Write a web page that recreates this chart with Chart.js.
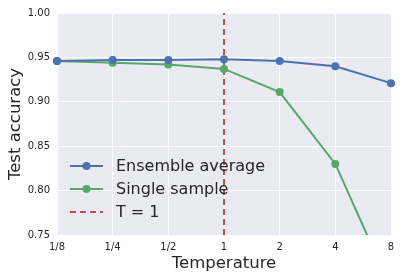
<!DOCTYPE html>
<html>
<head>
<meta charset="UTF-8">
<title>Test accuracy vs temperature</title>
<script src="https://cdn.jsdelivr.net/npm/chart.js"></script>
<style>
  html, body { margin: 0; padding: 0; background: #fff; }
  #wrap { width: 401px; height: 279px; }
</style>
</head>
<body>
<div id="wrap"><canvas id="chart" width="401" height="279"></canvas></div>
<script>
// data
const temperatures = ['1/8', '1/4', '1/2', '1', '2', '4', '8'];
const ensembleAvg = [0.946, 0.947, 0.947, 0.948, 0.946, 0.940, 0.921];
const singleSample = [0.946, 0.944, 0.942, 0.937, 0.911, 0.830, 0.690];
const yTicks = [0.75, 0.80, 0.85, 0.90, 0.95, 1.00];
const markerT = '1';

const FONT = 'DejaVu Sans';
const TEXT = '#262626';

// grey plot background
const bgPlugin = {
  id: 'bg',
  beforeDraw(chart) {
    const a = chart.chartArea, c = chart.ctx;
    c.save();
    c.fillStyle = '#EAEAF2';
    c.fillRect(a.left, a.top, a.right - a.left, a.bottom - a.top);
    c.restore();
  }
};

// legend drawn inside the plot, lower left
const legendPlugin = {
  id: 'innerLegend',
  afterDraw(chart) {
    const c = chart.ctx;
    const x0 = 70, x1 = 103, tx = 116;
    const rows = [166, 189, 212];
    c.save();
    c.font = '16px ' + FONT;
    c.textBaseline = 'middle';
    chart.data.datasets.forEach((ds, i) => {
      const y = rows[i];
      c.strokeStyle = ds.borderColor;
      c.lineWidth = ds.borderWidth;
      c.setLineDash(ds.borderDash || []);
      c.beginPath();
      c.moveTo(x0, y);
      c.lineTo(x1, y);
      c.stroke();
      c.setLineDash([]);
      if (ds.pointRadius) {
        c.fillStyle = ds.borderColor;
        c.beginPath();
        c.arc((x0 + x1) / 2, y, ds.pointRadius, 0, Math.PI * 2);
        c.fill();
      }
      c.fillStyle = TEXT;
      c.fillText(ds.label, tx, y + 1);
    });
    c.restore();
  }
};

new Chart(document.getElementById('chart'), {
  type: 'line',
  data: {
    labels: temperatures,
    datasets: [
      {
        label: 'Ensemble average',
        data: ensembleAvg,
        borderColor: '#4C72B0',
        backgroundColor: '#4C72B0',
        borderWidth: 2,
        pointRadius: 4,
        pointBorderWidth: 0,
        tension: 0
      },
      {
        label: 'Single sample',
        data: singleSample,
        borderColor: '#55A868',
        backgroundColor: '#55A868',
        borderWidth: 2,
        pointRadius: 4,
        pointBorderWidth: 0,
        tension: 0
      },
      {
        label: 'T = 1',
        data: [{ x: markerT, y: yTicks[0] }, { x: markerT, y: yTicks[yTicks.length - 1] }],
        borderColor: '#C44E52',
        borderWidth: 2,
        borderDash: [6, 4],
        pointRadius: 0
      }
    ]
  },
  options: {
    responsive: false,
    animation: false,
    events: [],
    layout: { padding: { left: 0, right: 10, top: 12, bottom: 0 } },
    plugins: { legend: { display: false }, tooltip: { enabled: false } },
    scales: {
      x: {
        type: 'category',
        offset: false,
        grid: { color: '#fff', lineWidth: 1, drawTicks: false },
        border: { display: false },
        ticks: { color: TEXT, font: { family: FONT, size: 10 }, padding: 6, maxRotation: 0 },
        title: { display: true, text: 'Temperature', color: TEXT, font: { family: FONT, size: 16.5 }, padding: { top: 0, bottom: 5 } },
        afterFit(s) { s.height = 44; }
      },
      y: {
        min: yTicks[0],
        max: yTicks[yTicks.length - 1],
        afterBuildTicks(s) { s.ticks = yTicks.map(v => ({ value: v })); },
        grid: { color: '#fff', lineWidth: 1, drawTicks: false },
        border: { display: false },
        ticks: { color: TEXT, font: { family: FONT, size: 10 }, padding: 7, callback: v => Number(v).toFixed(2) },
        title: { display: true, text: 'Test accuracy', color: TEXT, font: { family: FONT, size: 16.5 }, padding: { top: 6, bottom: 0 } },
        afterFit(s) { s.width = 57; }
      }
    }
  },
  plugins: [bgPlugin, legendPlugin]
});
</script>
</body>
</html>
